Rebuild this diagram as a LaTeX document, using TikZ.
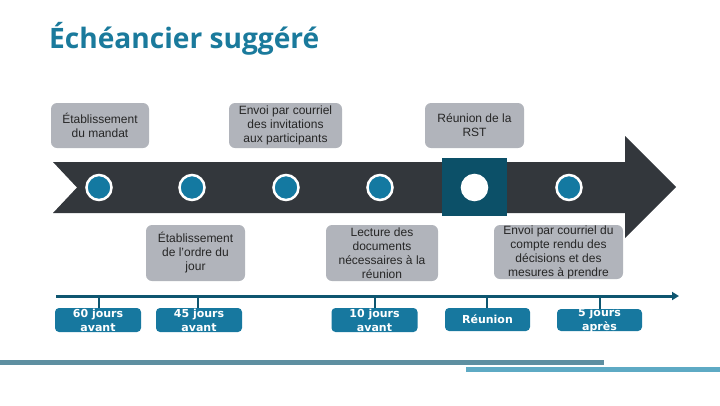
\documentclass[tikz,border=0pt]{standalone}
\usepackage{fontspec}
\setmainfont{Liberation Sans}
\newfontfamily\titlefont{Open Sans}
\newfontfamily\labelfont{DejaVu Sans}
\usetikzlibrary{arrows.meta}
\definecolor{titlecol}{HTML}{1A7A9C}
\definecolor{arrowcol}{HTML}{33373C}
\definecolor{graybox}{HTML}{B1B4BB}
\definecolor{dotblue}{HTML}{1479A1}
\definecolor{squarecol}{HTML}{0C5068}
\definecolor{labelblue}{HTML}{17789F}
\definecolor{linecol}{HTML}{0E5670}
\definecolor{barone}{HTML}{5E8FA1}
\definecolor{bartwo}{HTML}{5EAAC4}
\definecolor{txtcol}{HTML}{262626}
\begin{document}
\begin{tikzpicture}[x=1pt,y=-1pt,
  eventbox/.style={draw=none,fill=graybox,rounded corners=6pt,inner sep=0pt,align=center,
    text=txtcol,font=\fontsize{12}{14}\selectfont},
  datebox/.style={draw=none,fill=labelblue,rounded corners=4pt,inner sep=0pt},
  datetext/.style={inner sep=0pt,align=center,text=white,font=\labelfont\bfseries\fontsize{11}{14}\selectfont},
  dot/.style={circle,draw=white,line width=2.5pt,fill=dotblue,minimum size=25pt,inner sep=0pt},
  tick/.style={draw=linecol,line width=2.5pt}
]
\useasboundingbox (0,0) rectangle (720,405);
% title
\node[anchor=base west,inner sep=0pt,text=titlecol] (title) at (49,48)
  {\resizebox{270pt}{!}{\titlefont\bfseries Échéancier suggéré}};
% big arrow
\fill[arrowcol] (53,162) -- (625,162) -- (625,136) -- (676,187) -- (625,238)
  -- (625,213) -- (53,213) -- (77,187.5) -- cycle;
% highlight square
\fill[squarecol] (442,158) rectangle (507,216);
% dots
\node[dot] (d1) at (99,187.5) {};
\node[dot] (d2) at (192,187.5) {};
\node[dot] (d3) at (286,187.5) {};
\node[dot] (d4) at (380,187.5) {};
\node[dot,fill=white] (d5) at (474.5,187.5) {};
\node[dot] (d6) at (569,187.5) {};
% event boxes
\node[eventbox,minimum width=98pt,minimum height=45pt] (e1) at (100,125.5)
  {Établissement\\du mandat};
\node[eventbox,minimum width=113pt,minimum height=45pt] (e2) at (285.5,125.5)
  {Envoi par courriel\\des invitations\\aux participants};
\node[eventbox,minimum width=99pt,minimum height=45pt] (e3) at (474.5,125.5)
  {Réunion de la\\RST};
\node[eventbox,minimum width=99pt,minimum height=56pt] (e4) at (195.5,253)
  {Établissement\\de l'ordre du\\jour};
\node[eventbox,minimum width=112pt,minimum height=56pt] (e5) at (382,253)
  {Lecture des\\documents\\nécessaires à la\\réunion};
\node[eventbox,minimum width=129pt,minimum height=54pt] (e6) at (558.5,252)
  {Envoi par courriel du\\compte rendu des\\décisions et des\\mesures à prendre};
% timeline
\coordinate (tstart) at (56,296);
\coordinate (tend) at (679,296);
\draw[draw=linecol,line width=3pt,-{Triangle[length=7pt,width=8pt]}] (tstart) -- (tend);
% date boxes
\node[datebox,minimum width=86pt,minimum height=24pt] (b1) at (98,320) {};
\node[datebox,minimum width=86pt,minimum height=24pt] (b2) at (199,320) {};
\node[datebox,minimum width=86pt,minimum height=24pt] (b3) at (374.5,320) {};
\node[datebox,minimum width=85pt,minimum height=23pt] (b4) at (487.5,319.5) {};
\node[datebox,minimum width=85pt,minimum height=22pt] (b5) at (599.5,320) {};
\node[datetext] (t1) at (b1.center) {60 jours\\avant};
\node[datetext] (t2) at (b2.center) {45 jours\\avant};
\node[datetext] (t3) at (b3.center) {10 jours\\avant};
\node[datetext] (t4) at (b4.center) {Réunion};
\node[datetext] (t5) at (b5.center) {5 jours\\après};
% ticks
\foreach \b/\x in {b1/99,b2/198,b3/375,b4/487,b5/600}{
  \coordinate (k\b) at (\x,296);
  \draw[tick] (k\b) -- (k\b |- \b.north);
}
% bottom bars
\fill[barone] (0,360) rectangle (604,365);
\fill[bartwo] (466,367) rectangle (720,372);
\end{tikzpicture}
\end{document}
